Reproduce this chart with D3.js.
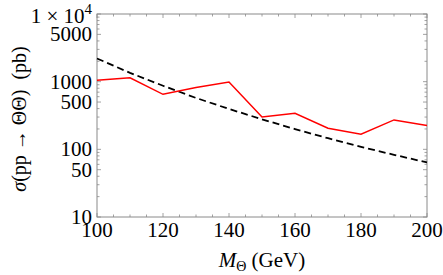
<!DOCTYPE html>
<html lang="en">
<head>
<meta charset="UTF-8">
<script src="https://d3js.org/d3.v7.min.js"></script>
<style>
  body { margin: 0; background: #fff; }
</style>
</head>
<body>
<svg width="443" height="275" font-family="'Liberation Serif', 'Times New Roman', Times, serif"></svg>
<script>
// masses (GeV)
var masses = [100, 110, 120, 130, 140, 150, 160, 170, 180, 190, 200];
// red solid curve (pb)
var sigmaRed = [1050, 1140, 650, 820, 990, 300, 340, 205, 167, 272, 225];
// black dashed curve (pb)
var sigmaDash = [2200, 1350, 870, 575, 395, 278, 199, 146, 109, 83, 64];

var xTicks = [100, 120, 140, 160, 180, 200];
var yTicks = [10, 50, 100, 500, 1000, 5000, 10000];
var yTickLabels = ["10", "50", "100", "500", "1000", "5000", "1 × 10^4"];

var mLeft = 97, mRight = 427, mTop = 14, mBottom = 217;
var svg = d3.select("svg");

var x = d3.scaleLinear().domain([100, 200]).range([mLeft, mRight]);
var y = d3.scaleLog().domain([10, 10000]).range([mBottom, mTop]);

var frameColor = "#8a8a8a";
var g = svg.append("g");

// minor ticks
var xMinor = d3.range(100, 201, 5);
var yMinor = [];
[10, 100, 1000].forEach(function(d) {
  for (var k = 1; k < 10; k++) yMinor.push(d * k);
});
yMinor.push(10000);

function isMajorY(v) { return yTicks.indexOf(v) >= 0; }
function isMajorX(v) { return xTicks.indexOf(v) >= 0; }

xMinor.forEach(function(v) {
  var L = isMajorX(v) ? 4 : 2.5;
  g.append("line").attr("x1", x(v)).attr("x2", x(v)).attr("y1", mBottom).attr("y2", mBottom - L)
    .attr("stroke", frameColor).attr("stroke-width", 0.8);
  g.append("line").attr("x1", x(v)).attr("x2", x(v)).attr("y1", mTop).attr("y2", mTop + L)
    .attr("stroke", frameColor).attr("stroke-width", 0.8);
});
yMinor.forEach(function(v) {
  var L = isMajorY(v) ? 4 : 2.5;
  g.append("line").attr("x1", mLeft).attr("x2", mLeft + L).attr("y1", y(v)).attr("y2", y(v))
    .attr("stroke", frameColor).attr("stroke-width", 0.8);
  g.append("line").attr("x1", mRight).attr("x2", mRight - L).attr("y1", y(v)).attr("y2", y(v))
    .attr("stroke", frameColor).attr("stroke-width", 0.8);
});

// frame
g.append("rect").attr("x", mLeft).attr("y", mTop).attr("width", mRight - mLeft).attr("height", mBottom - mTop)
  .attr("fill", "none").attr("stroke", frameColor).attr("stroke-width", 1);

// tick labels
xTicks.forEach(function(v) {
  svg.append("text").attr("x", x(v)).attr("y", mBottom + 20).attr("text-anchor", "middle")
    .attr("font-size", 21).text(v);
});
yTicks.forEach(function(v, i) {
  var lab = yTickLabels[i];
  var t = svg.append("text").attr("x", mLeft - 5).attr("y", y(v) + 7).attr("text-anchor", "end")
    .attr("font-size", 21);
  if (lab.indexOf("^") >= 0) {
    var parts = lab.split("^");
    t.attr("y", y(v) + 9);
    t.append("tspan").text(parts[0]);
    t.append("tspan").attr("dy", -9).attr("font-size", 15).text(parts[1]);
  } else {
    t.text(lab);
  }
});

// axis titles
var xl = svg.append("text").attr("x", 262).attr("y", 267).attr("text-anchor", "middle").attr("font-size", 21);
xl.append("tspan").attr("font-style", "italic").text("M");
xl.append("tspan").attr("dy", 4).attr("font-size", 14).text("Θ");
xl.append("tspan").attr("dy", -4).text(" (GeV)");

var yl = svg.append("text").attr("transform", "translate(26,119) rotate(-90)")
  .attr("text-anchor", "middle").attr("font-size", 20);
yl.append("tspan").attr("font-style", "italic").text("σ");
yl.append("tspan").text("(pp → ΘΘ)\u00a0\u00a0(pb)");

// curves
var lineFn = function(vals) {
  return d3.line().x(function(d, i) { return x(masses[i]); }).y(function(d) { return y(d); })(vals);
};
g.append("path").attr("d", lineFn(sigmaDash)).attr("fill", "none").attr("stroke", "#000")
  .attr("stroke-width", 1.8).attr("stroke-dasharray", "7,4");
g.append("path").attr("d", lineFn(sigmaRed)).attr("fill", "none").attr("stroke", "#ff0000")
  .attr("stroke-width", 1.5);
</script>
</body>
</html>
